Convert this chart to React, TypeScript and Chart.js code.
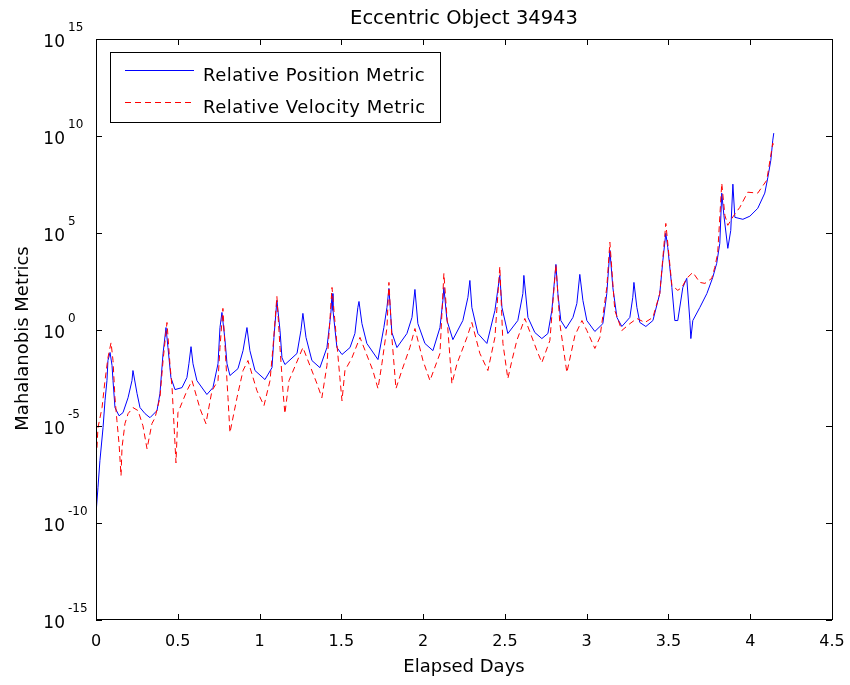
import React, { useEffect, useRef } from 'react';
import { Chart, registerables } from 'chart.js';

Chart.register(...registerables);

const FONT = "'DejaVu Sans', sans-serif";

const chartTitle = 'Eccentric Object 34943';
const xAxisTitle = 'Elapsed Days';
const yAxisTitle = 'Mahalanobis Metrics';
const seriesLabels = ['Relative Position Metric', 'Relative Velocity Metric'];

const xTickValues = [0, 0.5, 1, 1.5, 2, 2.5, 3, 3.5, 4, 4.5];
const xTickLabels = ['0', '0.5', '1', '1.5', '2', '2.5', '3', '3.5', '4', '4.5'];
const yTickValues = [1e-15, 1e-10, 1e-5, 1, 1e5, 1e10, 1e15];
const yTickExponents = ['-15', '-10', '-5', '0', '5', '10', '15'];

// Relative Position Metric (blue, solid)
const positionDays = [
  0, 0.012, 0.024, 0.043, 0.055, 0.067, 0.073, 0.086, 0.098, 0.104, 0.116, 0.141, 0.165, 0.196, 0.22, 0.226,
  0.251, 0.269, 0.3, 0.33, 0.373, 0.391, 0.41, 0.428, 0.44, 0.458, 0.483, 0.526, 0.556, 0.568, 0.581, 0.593,
  0.617, 0.678, 0.715, 0.746, 0.758, 0.77, 0.789, 0.801, 0.819, 0.868, 0.899, 0.923, 0.941, 0.972, 1.033,
  1.076, 1.088, 1.106, 1.125, 1.137, 1.155, 1.229, 1.253, 1.265, 1.284, 1.32, 1.369, 1.412, 1.436, 1.443,
  1.449, 1.473, 1.504, 1.553, 1.583, 1.601, 1.608, 1.626, 1.656, 1.724, 1.76, 1.779, 1.791, 1.809, 1.84,
  1.901, 1.932, 1.95, 1.968, 2.011, 2.06, 2.103, 2.121, 2.127, 2.146, 2.182, 2.243, 2.274, 2.286, 2.298,
  2.335, 2.39, 2.439, 2.469, 2.482, 2.518, 2.579, 2.61, 2.616, 2.641, 2.683, 2.726, 2.763, 2.787, 2.812,
  2.824, 2.842, 2.873, 2.916, 2.94, 2.958, 2.977, 3.001, 3.05, 3.099, 3.123, 3.142, 3.16, 3.185, 3.215,
  3.264, 3.282, 3.289, 3.307, 3.325, 3.362, 3.405, 3.447, 3.466, 3.484, 3.496, 3.521, 3.539, 3.557, 3.588,
  3.612, 3.631, 3.637, 3.649, 3.692, 3.735, 3.771, 3.795, 3.814, 3.826, 3.839, 3.863, 3.881, 3.894, 3.906,
  3.955, 3.998, 4.046, 4.089, 4.108, 4.126, 4.138, 4.144,
];
const positionMetric = [
  3.0e-10, 6.8e-9, 1.7e-7, 8.5e-6, 2.1e-4, 2.3e-3, 2.5e-2, 6.5e-2, 1.4e-2, 2.3e-3, 9.3e-5, 3.5e-5, 5.1e-5, 3.0e-4, 2.3e-3, 7.6e-3,
  4.9e-4, 9.3e-5, 4.5e-5, 2.8e-5, 6.5e-5, 4.9e-4, 5.8e-2, 1.26, 0.117, 3.3e-3, 7.9e-4, 1.0e-3, 3.3e-3, 1.7e-2, 0.13, 1.7e-2,
  2.3e-3, 4.4e-4, 1.0e-3, 1.7e-2, 1.26, 7.6, 0.27, 1.7e-2, 4.2e-3, 9.5e-3, 8.1e-2, 1.26, 8.1e-2, 7.6e-3, 2.6e-3,
  1.07e-2, 0.39, 32, 0.89, 3.5e-2, 1.55e-2, 5.8e-2, 0.89, 6.8, 0.39, 2.5e-2, 1.07e-2, 0.117, 6.8, 72,
  9.6, 0.117, 5.1e-2, 0.117, 0.62, 13.8, 28, 2.0, 0.19, 2.8e-2, 1.26, 13.8, 132, 0.7, 0.117,
  0.62, 4.2, 117, 2.0, 0.19, 8.1e-2, 1.26, 32, 148, 2.9, 0.3, 2.9, 46, 340, 13.8,
  0.62, 0.19, 9.6, 620, 13.8, 0.62, 2.9, 72, 620, 4.2, 0.7, 0.34, 0.62, 9.6, 2300,
  72, 2.9, 1.12, 4.2, 22, 700, 32, 2.9, 0.79, 2.0, 72, 1.23e4, 148, 4.2, 1.43,
  4.2, 46, 270, 13.8, 2.3, 1.43, 2.9, 72, 3700, 9.3e4, 1.7e4, 148, 2.9, 2.9, 148,
  440, 2.9, 0.34, 2.9, 13.8, 72, 490, 2600, 2.8e4, 1.1e7, 7.9e5, 1.55e4, 1.3e5, 3.2e7, 6.2e5,
  4.9e5, 7.1e5, 1.8e6, 1.1e7, 7.3e7, 5.5e8, 6.0e9, 1.38e10,
];

// Relative Velocity Metric (red, dashed)
const velocityDays = [
  0, 0.006, 0.012, 0.037, 0.055, 0.073, 0.092, 0.104, 0.116, 0.128, 0.141, 0.153, 0.159, 0.177, 0.196, 0.226,
  0.257, 0.287, 0.312, 0.342, 0.361, 0.391, 0.41, 0.434, 0.452, 0.465, 0.489, 0.501, 0.556, 0.587, 0.636,
  0.672, 0.709, 0.746, 0.758, 0.776, 0.789, 0.807, 0.819, 0.862, 0.899, 0.929, 0.984, 1.027, 1.064, 1.082,
  1.106, 1.125, 1.143, 1.155, 1.18, 1.265, 1.351, 1.381, 1.412, 1.443, 1.455, 1.491, 1.504, 1.522, 1.565,
  1.614, 1.693, 1.724, 1.748, 1.779, 1.791, 1.809, 1.834, 1.87, 1.919, 1.95, 1.999, 2.042, 2.103, 2.127,
  2.146, 2.176, 2.207, 2.268, 2.298, 2.347, 2.396, 2.439, 2.469, 2.488, 2.518, 2.543, 2.573, 2.622, 2.696,
  2.726, 2.775, 2.812, 2.836, 2.879, 2.928, 2.971, 3.001, 3.05, 3.081, 3.123, 3.142, 3.172, 3.215, 3.264,
  3.307, 3.356, 3.405, 3.447, 3.484, 3.521, 3.557, 3.582, 3.612, 3.649, 3.692, 3.723, 3.765, 3.783, 3.801,
  3.826, 3.845, 3.863, 3.9, 3.936, 3.985, 4.046, 4.101, 4.138, 4.144,
];
const velocityMetric = [
  2.4e-7, 7.9e-7, 8.5e-6, 9.3e-5, 2.3e-3, 3.5e-2, 0.21, 2.5e-2, 3.0e-4, 1.95e-5, 1.26e-6, 2.8e-8, 7.9e-7, 1.38e-5, 4.5e-5, 9.3e-5,
  6.5e-5, 1.07e-5, 6.9e-7, 1.38e-5, 2.8e-5, 3.0e-4, 2.5e-2, 2.3, 1.7e-2, 1.0e-3, 1.3e-7, 5.1e-5, 6.9e-4, 2.3e-3, 8.1e-5,
  1.38e-5, 6.9e-4, 2.3e-3, 0.117, 12.3, 0.117, 3.0e-4, 4.7e-6, 3.0e-4, 7.6e-3, 2.5e-2, 6.9e-4, 1.17e-4, 2.3e-3, 0.117,
  51, 0.117, 6.9e-4, 4.5e-5, 2.3e-3, 0.117, 1.6e-3, 3.0e-4, 1.38e-2, 148, 9.6, 3.3e-3, 2.1e-4, 7.6e-3, 3.5e-2,
  0.39, 7.6e-3, 8.9e-4, 1.7e-2, 1.26, 270, 0.39, 8.9e-4, 7.6e-3, 0.117, 1.12, 2.5e-2, 2.3e-3, 5.8e-2, 790,
  4.2, 1.6e-3, 1.7e-2, 0.39, 2.3, 5.8e-2, 7.6e-3, 0.39, 1800, 0.19, 2.9e-3, 2.5e-2, 0.27, 3.7, 8.1e-2,
  1.95e-2, 0.27, 2300, 2.0, 6.0e-3, 0.49, 2.9, 0.89, 0.105, 0.39, 148, 3.2e4, 9.6, 0.89, 2.0,
  3.7, 2.3, 4.2, 72, 3.0e5, 190, 105, 148, 440, 890, 270, 240, 440, 1600, 8500,
  3.6e7, 7.9e5, 2.4e5, 7.9e5, 2.0e6, 1.23e7, 1.1e7, 5.1e7, 4.2e9, 2.3e9,
];

const matlabPlugin = {
  id: 'matlabAxes',
  afterDatasetsDraw(chart: any) {
    const { ctx, chartArea } = chart;
    const { left, top, right, bottom } = chartArea;
    const xs = chart.scales.x;
    const ys = chart.scales.y;
    ctx.save();
    ctx.strokeStyle = '#000';
    ctx.lineWidth = 1;
    ctx.setLineDash([]);
    // box
    ctx.strokeRect(left + 0.5, top + 0.5, right - left, bottom - top - 1);
    // inward ticks
    ctx.beginPath();
    xTickValues.forEach((v) => {
      const px = Math.round(xs.getPixelForValue(v)) + 0.5;
      ctx.moveTo(px, bottom);
      ctx.lineTo(px, bottom - 6);
      ctx.moveTo(px, top);
      ctx.lineTo(px, top + 6);
    });
    yTickValues.forEach((v) => {
      const py = Math.round(ys.getPixelForValue(v)) + 0.5;
      ctx.moveTo(left, py);
      ctx.lineTo(left + 6, py);
      ctx.moveTo(right, py);
      ctx.lineTo(right - 6, py);
    });
    ctx.stroke();
    // y tick labels: 10 with superscript exponent
    ctx.fillStyle = '#000';
    yTickValues.forEach((v, i) => {
      const py = ys.getPixelForValue(v);
      ctx.textBaseline = 'alphabetic';
      ctx.font = `17px ${FONT}`;
      ctx.textAlign = 'right';
      ctx.fillText('10', 65, py + 8);
      ctx.font = `12px ${FONT}`;
      ctx.textAlign = 'left';
      ctx.fillText(yTickExponents[i], 68, py - 8);
    });
    // y axis title (rotated)
    ctx.save();
    ctx.translate(28, (top + bottom) / 2 + 9);
    ctx.rotate(-Math.PI / 2);
    ctx.font = `18px ${FONT}`;
    ctx.textAlign = 'center';
    ctx.textBaseline = 'alphabetic';
    ctx.fillText(yAxisTitle, 0, 0);
    ctx.restore();
    // legend
    const lx = 110, ly = 52, lw = 330, lh = 70;
    ctx.fillStyle = '#fff';
    ctx.fillRect(lx, ly, lw, lh);
    ctx.strokeStyle = '#000';
    ctx.strokeRect(lx + 0.5, ly + 0.5, lw, lh);
    const rows = [70, 102];
    const baselines = [81, 113];
    chart.data.datasets.forEach((ds: any, i: number) => {
      ctx.beginPath();
      ctx.strokeStyle = ds.borderColor;
      ctx.lineWidth = 1;
      ctx.setLineDash(ds.borderDash || []);
      ctx.moveTo(125, rows[i] + 0.5);
      ctx.lineTo(194, rows[i] + 0.5);
      ctx.stroke();
      ctx.setLineDash([]);
      ctx.fillStyle = '#000';
      ctx.font = `18px ${FONT}`;
      ctx.textAlign = 'left';
      ctx.textBaseline = 'alphabetic';
      try { (ctx as any).letterSpacing = '0.5px'; } catch (e) { /* ignore */ }
      ctx.fillText(ds.label, 203, baselines[i]);
      try { (ctx as any).letterSpacing = '0px'; } catch (e) { /* ignore */ }
    });
    ctx.restore();
  },
};

export default function App() {
  const ref = useRef<HTMLCanvasElement>(null);
  useEffect(() => {
    const canvas = ref.current;
    if (!canvas) return;
    const chart = new Chart(canvas, {
      type: 'scatter',
      data: {
        datasets: [
          {
            label: seriesLabels[0],
            data: positionDays.map((d, i) => ({ x: d, y: positionMetric[i] })),
            showLine: true,
            borderColor: '#0000ff',
            backgroundColor: '#0000ff',
            borderWidth: 1,
            pointRadius: 0,
            tension: 0,
            order: 1,
          },
          {
            label: seriesLabels[1],
            data: velocityDays.map((d, i) => ({ x: d, y: velocityMetric[i] })),
            showLine: true,
            borderColor: '#ff0000',
            backgroundColor: '#ff0000',
            borderWidth: 1,
            borderDash: [6, 4],
            pointRadius: 0,
            tension: 0,
            order: 0,
          },
        ],
      },
      options: {
        responsive: false,
        animation: false,
        events: [],
        layout: { padding: { left: 0, right: 18, top: 0, bottom: 0 } },
        plugins: {
          legend: { display: false },
          tooltip: { enabled: false },
          title: {
            display: true,
            fullSize: false,
            text: chartTitle,
            color: '#000',
            font: { family: FONT, size: 19.5, weight: 'normal' },
            padding: { top: 7, bottom: 8.6 },
          },
        },
        scales: {
          x: {
            type: 'linear',
            min: 0,
            max: 4.5,
            grid: { display: false },
            border: { display: false },
            afterBuildTicks: (s: any) => {
              s.ticks = xTickValues.map((v) => ({ value: v }));
            },
            ticks: {
              color: '#000',
              font: { family: FONT, size: 16 },
              padding: 4,
              maxRotation: 0,
              autoSkip: false,
              callback: (v: any) => {
                const i = xTickValues.indexOf(Number(v));
                return i >= 0 ? xTickLabels[i] : '';
              },
            },
            title: {
              display: true,
              text: xAxisTitle,
              color: '#000',
              font: { family: FONT, size: 18 },
              padding: { top: 0, bottom: 7 },
            },
            afterFit: (s: any) => {
              s.height = 65;
              s.paddingLeft = 0;
              s.paddingRight = 0;
            },
          },
          y: {
            type: 'logarithmic',
            min: 1e-15,
            max: 1e15,
            grid: { display: false },
            border: { display: false },
            afterBuildTicks: (s: any) => {
              s.ticks = yTickValues.map((v) => ({ value: v }));
            },
            ticks: { display: false },
            title: { display: false, text: yAxisTitle },
            afterFit: (s: any) => {
              s.width = 96;
              s.paddingTop = 0;
              s.paddingBottom = 0;
            },
          },
        },
      },
      plugins: [matlabPlugin],
    } as any);
    return () => chart.destroy();
  }, []);
  return (
    <div style={{ position: 'absolute', left: 0, top: 0, width: 850, height: 685, background: '#fff' }}>
      <canvas ref={ref} width={850} height={685} style={{ display: 'block' }} />
    </div>
  );
}
